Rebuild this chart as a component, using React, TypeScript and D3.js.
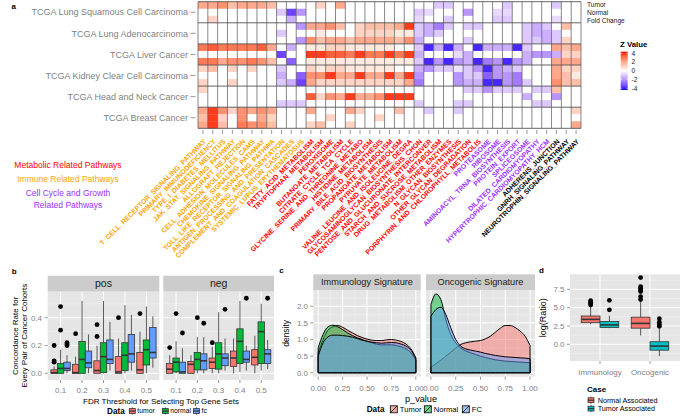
import React from "react";
import * as d3 from "d3";

const FONT = '"Liberation Sans", Arial, Helvetica, sans-serif';
const GREY_TEXT = "#7F7F7F";
const PANEL_BG = "#E5E5E5";
const STRIP_BG = "#CCCCCC";
const MINOR = "#F2F2F2";
const LINE = "#333333";

// ---------------- Panel a data ----------------
const cancers = [
  "TCGA Lung Squamous Cell Carcinoma",
  "TCGA Lung Adenocarcinoma",
  "TCGA Liver Cancer",
  "TCGA Kidney Clear Cell Carcinoma",
  "TCGA Head and Neck Cancer",
  "TCGA Breast Cancer",
];
const heatRowTypes = ["Tumor", "Normal", "Fold Change"];
const pathways = [
  "T_CELL_RECEPTOR_SIGNALING_PATHWAY",
  "PRIMARY_IMMUNODEFICIENCY",
  "TYPE_I_DIABETES_MELLITUS",
  "JAK_STAT_SIGNALING_PATHWAY",
  "ALLOGRAFT_REJECTION",
  "CELL_ADHESION_MOLECULES_CAMS",
  "CHEMOKINE_SIGNALING_PATHWAY",
  "TOLL_LIKE_RECEPTOR_SIGNALING_PATHWA",
  "ANTIGEN_PROCESSING_AND_PRESENTATION",
  "COMPLEMENT_AND_COAGULATION_CASCADES",
  "SYSTEMIC_LUPUS_ERYTHEMATOSUS",
  "FATTY_ACID_METABOLISM",
  "TRYPTOPHAN_METABOLISM",
  "PEROXISOME",
  "BUTANOATE_METABOLISM",
  "CITRATE_CYCLE_TCA_CYCLE",
  "GLYCINE_SERINE_AND_THREONINE_METABO",
  "HISTIDINE_METABOLISM",
  "PRIMARY_BILE_ACID_BIOSYNTHESIS",
  "PROPANOATE_METABOLISM",
  "PYRUVATE_METABOLISM",
  "VALINE_LEUCINE_AND_ISOLEUCINE_DEGRA",
  "GLYCOSAMINOGLYCAN_BIOSYNTHESIS_CHON",
  "PENTOSE_AND_GLUCURONATE_INTERCONVER",
  "STARCH_AND_SUCROSE_METABOLISM",
  "DRUG_METABOLISM_OTHER_ENZYMES",
  "N_GLYCAN_BIOSYNTHESIS",
  "OTHER_GLYCAN_DEGRADATION",
  "PORPHYRIN_AND_CHLOROPHYLL_METABOLIS",
  "PROTEASOME",
  "RIBOSOME",
  "AMINOACYL_TRNA_BIOSYNTHESIS",
  "PROTEIN_EXPORT",
  "SPLICEOSOME",
  "DILATED_CARDIOMYOPATHY",
  "HYPERTROPHIC_CARDIOMYOPATHY_HCM",
  "ADHERENS_JUNCTION",
  "GNRH_SIGNALING_PATHWAY",
  "NEUROTROPHIN_SIGNALING_PATHWAY",
];
const pathwayGroupSizes = [11, 18, 7, 3];
const pathwayGroupColors = ["#FFA500", "#FF0000", "#9B30FF", "#000000"];
const groupLegendLines = [
  { text: "Metabolic Related Pathways", color: "#FF0000" },
  { text: "Immune Related Pathways", color: "#FFA500" },
  { text: "Cell Cycle and Growth", color: "#9B30FF" },
  { text: "Related Pathways", color: "#9B30FF" },
];

const zLUSC = [
  [2, 2, 2.5, 1.5, 2, 2, 2, 1.5, 0, 0, 0, 0, 1, 0, 2, 0, 0, 0, 0, 0, 0, 0, 0, 0, -1, -1, 0, 0, 0, 0, 0, -1, 0, 0, 0, 0, -1, 0, 0],
  [0, 0, 0, 0, 0, 0, 0, 0, -1, -3.5, -2, 0, 0, 0, 0, 0, 0, 0, 0, 0, 0, 0, -1, -0.7, 0, 0, 0, -2, 0, 0, -0.7, -0.7, 0, 0, 0, 0, 0, 0, 0],
  [0, 1, 0, 0, 0, 0, 0, 0, 0, -1.5, 0, 0, 0, 0, 0, 0, 0, 0, 0, 0, 0, 0, -0.7, 0, 0, -1, 0, 0, 0, 0, -1, -1, 0, 0, 0, 0, -0.7, 0, 0],
];
const zLUAD = [
  [0, 0, 0, 0, 0, 0, 0, 0, 0, 0, -2, 2, 2, 2.5, 1.5, 0, 1, 1.5, 1.5, 1.5, 2, 4, -1, -1.5, -2.5, -1, 0, -1, -1, 0, 0, 0, 0, -1, -1.5, -1, 0, 1.5, 0],
  [0, 0, 0, 0, 0, 0, 0, 0, -1, 0, 0, 0, 0.5, 0, 0, 0, 1, 1, 1, 1, 0.5, 0.5, -1, -1.5, -1, 0, 0, 0, 0, 0, 0, 0, 0, -1, -1.5, -1.5, -1, 0, 0],
  [0, 0, 0, 0, 0, 0, 0, 0, 0, 0, -2, 2.5, 1.5, 2, 2, 1.5, 2, 2, 2, 2, 1.5, 2.5, -1.5, 0, 0, 0, 0, -1, 0, 0, 0, 0, 0, -1, -1, -1.5, -1, 1, 0],
];
const zLIHC = [
  [3, 3.5, 3, 3, 3, 3, 3.5, 2, 0, -1.5, 0, 0.5, 0.5, 1, 1, 0.5, 0.5, 0.5, 0.5, 0.5, 0, 0, -1, -4, -1.5, -4, -1.5, 0, -4, -1.5, -1.5, -1.5, -4, -1, 0, 0, 2, 1.5, 2],
  [0, 0, 0, 0, 0, 0, 0, 0, -3.5, 0, 0, 4, 4, 3.5, 3.5, 3, 4, 3, 3, 4, 3, 4, -1.5, 0, 0, 0, -0.7, -1.5, 0, 0, 0, 0, 0, -1.5, -2, -2, -1.5, 1, 1],
  [3, 3, 2, 2.5, 2.5, 3, 2.5, 1.5, 0, -3, 0, 0.5, 0.5, 0.5, 0.5, 0.5, 0.5, 0.5, 0.5, 0.5, 0.5, 0.5, -1, -4, -2, -4, -2, -1.5, -4, -2.5, -2, -4, -2, -1.5, 0, 0, 2, 2, 2],
];
const zKIRC = [
  [1, 1.5, 0, 1, 0, 1, 0, 0, -1, 0, 0, 1, 0.5, 1, 1, 0.5, 0.5, 0.5, 0.5, 0.5, 0, 0, -1.5, -2, -1, -1, -0.5, -1, -2, -4, -2, -1.5, -1, 0, 0, 0, 2, 1, 1],
  [0, 0, 0, 0, 0, 0, 0, 0, -1.5, 0, -3, 2.5, 2.5, 4, 2, 2, 4, 2, 2, 4, 2, 4, -2, 0, 0, 0, -2, -1, -1, -3, -2, -2, -2.5, 0, 0, 0, 2, 1.5, 0.5],
  [1, 0, 0, 1, 0, 0, 0, 0, -1, -1.5, -3.5, 2, 1, 1, 1, 1, 1, 1, 1, 1, 1, 2, -2.5, 0, 0, 0, -2, -1.5, -1.5, -4, -4, -2, -2.5, -1, 0, 0, 2.5, 1.5, 1.5],
];
const zHNSC = [
  [1, 0, 0, 0, 0, 0, 0, 0, 0, 0, 0, 0, 0, 0, 0, 0, 0, 0, 0, 0, 0, 0, 0, 0, 0, 0, 0, -1, -1, -2, -1, -1, -1, 0, -1, -1, 1.5, 0, 0],
  [0, 0, 0, 0, 0, 0, 0, 0, 0, 0, 0, 3.5, 1, 2.5, 2, 4, 2, 2, 2.5, 4, 4, 4, 0, 0, 0, 0, 0, 0, 0, 0, 0, 0, 0, -1.5, 0, 0, -2, 0, 0],
  [0, 0, 0, 0, 0, 0, 0, 0, -1, -1, -1, 0, 0, 0, 0, 0, 0, 0, 0, 0, 0, 0, -1, 0, 0, 0, -1, -1, 0, 0, 0, 0, 0, 0, -1, -1, 0, 0, 0],
];
const zBRCA = [
  [2, 4, 2.5, 1, 2.5, 2, 2.5, 2, 0, 0, 0, 2, 0, 0, 0, 2, 1, 0, 0, 0, 1.5, 0, 0, -1, 0, 0, -1, 0, 0, 0, 0, 0, 0, 0, 0, 0, 0, 0, 1],
  [1.5, 4, 1, 0, 2.5, 0, 2, 1, 0, 0, 0, 0, 0, 1, 0, 0, 0, 0, 1, 0, 0, 0, 0, 0, 0, 0, 0, 0, 0, 0, 0, 0, 0, 0, 0, 0, 0, 0, 0],
  [2, 4, 1.5, 0, 3, 2.5, 2.5, 1.5, 0, 0, 0, 1, 1.5, 0, 0, 1, 0, 0, 0, 0, 0, 0, 0, 0, 0, 0, 0, 0, 0, 0, 0, 0, 0, 0, 0, 0, 0, 0, 2],
];
const zValueTicks = [4, 2, 0, -2, -4];

// ---------------- Panel b data ----------------
const thresholds = ["0.1", "0.2", "0.3", "0.4", "0.5"];
const bFacets = ["pos", "neg"];
const bSeries = ["tumor", "normal", "fc"];
// [lower whisker, q1, median, q3, upper whisker]
const posTumorStats = [[0, 0, 0.005, 0.025, 0.05], [0, 0, 0.005, 0.065, 0.12], [0, 0, 0.02, 0.09, 0.2], [0, 0, 0.01, 0.12, 0.25], [0, 0, 0.025, 0.15, 0.3]];
const posNormalStats = [[0, 0, 0.035, 0.07, 0.17], [0, 0, 0.1, 0.23, 0.52], [0, 0.005, 0.12, 0.22, 0.52], [0, 0.02, 0.13, 0.22, 0.49], [0, 0.06, 0.17, 0.24, 0.48]];
const posFcStats = [[0, 0.02, 0.035, 0.08, 0.13], [0, 0.04, 0.075, 0.16, 0.28], [0.02, 0.07, 0.1, 0.24, 0.37], [0.02, 0.08, 0.14, 0.28, 0.42], [0.04, 0.11, 0.15, 0.33, 0.41]];
const posTumorOut = [[0.2, 0.09, 0.08], [0.285], [0.35, 0.265], [0.4], [0.43]];
const posNormalOut = [[0.48, 0.31], [], [], [], []];
const posFcOut = [[0.22, 0.21, 0.2], [], [], [], []];
const negTumorStats = [[0, 0, 0.03, 0.07, 0.13], [0, 0, 0.065, 0.085, 0.13], [0, 0.035, 0.08, 0.11, 0.19], [0, 0.05, 0.11, 0.16, 0.25], [0, 0.06, 0.115, 0.17, 0.27]];
const negNormalStats = [[0, 0.01, 0.08, 0.11, 0.23], [0, 0.025, 0.1, 0.15, 0.26], [0, 0.03, 0.14, 0.22, 0.44], [0.01, 0.07, 0.23, 0.32, 0.52], [0.02, 0.07, 0.3, 0.37, 0.5]];
const negFcStats = [[0, 0, 0.01, 0.08, 0.18], [0, 0.025, 0.09, 0.14, 0.26], [0.02, 0.055, 0.11, 0.14, 0.25], [0.02, 0.08, 0.1, 0.16, 0.2], [0.03, 0.07, 0.14, 0.17, 0.24]];
const negTumorOut = [[0.185], [], [0.22], [], []];
const negNormalOut = [[0.43], [0.4], [], [], []];
const negFcOut = [[0.29], [0.36], [0.46], [0.54], [0.54]];
const bYTicks = [0, 0.2, 0.4];
const bYMinor = [0.1, 0.3, 0.5];

// ---------------- Panel c data ----------------
const cFacets = ["Immunology Signature", "Oncogenic Signature"];
const cSeries = ["Tumor", "Normal", "FC"];
const pGrid = [0, 0.05, 0.1, 0.15, 0.2, 0.25, 0.3, 0.35, 0.4, 0.45, 0.5, 0.55, 0.6, 0.65, 0.7, 0.75, 0.8, 0.85, 0.9, 0.95, 1];
const immTumorDensity = [0.6, 1.0, 1.28, 1.38, 1.42, 1.37, 1.28, 1.2, 1.12, 1.06, 1.01, 0.98, 0.97, 0.97, 0.99, 1.0, 0.98, 0.94, 0.86, 0.72, 0.45];
const immNormalDensity = [0.75, 1.15, 1.38, 1.43, 1.38, 1.3, 1.2, 1.12, 1.05, 1.0, 0.94, 0.9, 0.86, 0.84, 0.84, 0.84, 0.82, 0.78, 0.72, 0.6, 0.38];
const immFcDensity = [0.5, 0.9, 1.08, 1.13, 1.13, 1.12, 1.1, 1.07, 1.03, 0.98, 0.95, 0.92, 0.9, 0.89, 0.9, 0.91, 0.9, 0.86, 0.8, 0.68, 0.42];
const oncTumorDensity = [0.17, 0.27, 0.38, 0.5, 0.62, 0.74, 0.85, 0.9, 0.93, 0.95, 0.97, 1.02, 1.1, 1.22, 1.34, 1.42, 1.42, 1.36, 1.25, 1.1, 0.82];
const oncNormalDensity = [2.05, 2.37, 2.2, 1.6, 1.15, 0.9, 0.75, 0.66, 0.6, 0.55, 0.5, 0.46, 0.42, 0.39, 0.37, 0.35, 0.34, 0.33, 0.32, 0.31, 0.3];
const oncFcDensity = [1.7, 1.9, 1.97, 1.75, 1.35, 1.0, 0.8, 0.72, 0.68, 0.65, 0.62, 0.58, 0.55, 0.52, 0.5, 0.48, 0.47, 0.46, 0.45, 0.44, 0.42];
const cXTicks = [0, 0.25, 0.5, 0.75, 1];
const cXTickLabels = ["0.00", "0.25", "0.50", "0.75", "1.00"];
const cYTicks = [0, 0.5, 1, 1.5, 2];

// ---------------- Panel d data ----------------
const dCategories = ["Immunology", "Oncogenic"];
const dCases = ["Normal Associated", "Tumor Associated"];
const dNormalStats = [[2.75, 2.95, 3.4, 3.86, 5.1], [1.2, 2.2, 2.85, 3.7, 5.8]];
const dTumorStats = [[2.2, 2.3, 2.65, 3.1, 3.9], [-1.6, -0.8, -0.25, 0.35, 2.2]];
const dNormalOut = [[5.35, 5.55, 5.75, 5.95], [6.1, 6.5, 7.2, 7.4, 7.6, 7.85, 9.1]];
const dTumorOut = [[4.7, 6.0], [2.45, 2.65, 3.0, 3.5]];
const dYTicks = [0, 2.5, 5, 7.5];
const dYTickLabels = ["0.0", "2.5", "5.0", "7.5"];
const dYMinor = [-1.25, 1.25, 3.75, 6.25, 8.75];

const hue3 = ["#F8766D", "#00BA38", "#619CFF"];
const hue2 = ["#F8766D", "#00BFC4"];

type BoxProps = {
  cx: number;
  w: number;
  stats: number[];
  y: (v: number) => number;
  fill: string;
  outliers: number[];
  r: number;
};

function BoxMark({ cx, w, stats, y, fill, outliers, r }: BoxProps) {
  const [lo, q1, med, q3, hi] = stats;
  return (
    <g>
      <line x1={cx} x2={cx} y1={y(hi)} y2={y(q3)} stroke={LINE} strokeWidth={0.8} />
      <line x1={cx} x2={cx} y1={y(q1)} y2={y(lo)} stroke={LINE} strokeWidth={0.8} />
      <rect x={cx - w / 2} y={y(q3)} width={w} height={Math.max(0.01, y(q1) - y(q3))} fill={fill} stroke={LINE} strokeWidth={0.8} />
      <line x1={cx - w / 2} x2={cx + w / 2} y1={y(med)} y2={y(med)} stroke={LINE} strokeWidth={1.6} />
      {outliers.map((o, i) => (
        <circle key={i} cx={cx} cy={y(o)} r={r} fill="#000" />
      ))}
    </g>
  );
}

function BoxKey({ x, y, fill }: { x: number; y: number; fill: string }) {
  return (
    <g>
      <line x1={x + 3} x2={x + 3} y1={y - 3.6} y2={y + 3.6} stroke={LINE} strokeWidth={0.8} />
      <rect x={x} y={y - 2.4} width={6} height={4.8} fill={fill} stroke={LINE} strokeWidth={0.8} />
      <line x1={x} x2={x + 6} y1={y} y2={y} stroke={LINE} strokeWidth={1.2} />
    </g>
  );
}

export default function App() {
  // ---------------- Panel a ----------------
  const heatLeft = 198;
  const heatRight = 581;
  const heatTop = 1.7;
  const heatBottom = 128.3;
  const xHeat = d3.scaleBand<string>().domain(pathways).range([heatLeft, heatRight]);
  const yHeat = d3.scaleBand<number>().domain(d3.range(18)).range([heatTop, heatBottom]);
  const colorZ = d3
    .scaleLinear<string>()
    .domain([-4.4, 0, 4.4])
    .range(["#0000FF", "#FFFFFF", "#FF0000"])
    .interpolate(d3.interpolateLab)
    .clamp(true);
  const heatData = [zLUSC, zLUAD, zLIHC, zKIRC, zHNSC, zBRCA];
  const pathwayColor: string[] = [];
  pathwayGroupSizes.forEach((n, gi) => {
    for (let i = 0; i < n; i++) pathwayColor.push(pathwayGroupColors[gi]);
  });
  const cells: JSX.Element[] = [];
  heatData.forEach((block, ci) => {
    block.forEach((row, ri) => {
      row.forEach((v, pi) => {
        const rIdx = ci * 3 + ri;
        cells.push(
          <rect
            key={`c${rIdx}-${pi}`}
            x={xHeat(pathways[pi])}
            y={yHeat(rIdx)}
            width={xHeat.bandwidth()}
            height={yHeat.bandwidth() + 0.3}
            fill={colorZ(v)}
          />
        );
      });
    });
  });
  const zBar = { x: 620.7, w: 7, top: 51.7, bottom: 90 };
  const zScale = d3.scaleLinear().domain([4.4, -4.4]).range([zBar.top, zBar.bottom]);
  const gradStops = d3.range(0, 1.0001, 0.1);

  // ---------------- Panel b ----------------
  const bPanels = [
    { left: 47.7, right: 159.3 },
    { left: 163.3, right: 274 },
  ];
  const bStripTop = 275.7;
  const bPlotTop = 291.7;
  const bPlotBottom = 380;
  const yB = d3.scaleLinear().domain([-0.048, 0.587]).range([bPlotBottom, bPlotTop]);
  const bStats = [
    [posTumorStats, posNormalStats, posFcStats],
    [negTumorStats, negNormalStats, negFcStats],
  ];
  const bOut = [
    [posTumorOut, posNormalOut, posFcOut],
    [negTumorOut, negNormalOut, negFcOut],
  ];

  // ---------------- Panel c ----------------
  const cPanels = [
    { left: 313.3, right: 420.7 },
    { left: 426, right: 535 },
  ];
  const cStripTop = 274.3;
  const cPlotTop = 290;
  const cPlotBottom = 376.7;
  const yC = d3.scaleLinear().domain([-0.1185, 2.4885]).range([cPlotBottom, cPlotTop]);
  const cDensities = [
    [immTumorDensity, immNormalDensity, immFcDensity],
    [oncTumorDensity, oncNormalDensity, oncFcDensity],
  ];

  // ---------------- Panel d ----------------
  const dPanel = { left: 570, right: 680, top: 274.3, bottom: 361 };
  const yD = d3.scaleLinear().domain([-2.28, 9.55]).range([dPanel.bottom, dPanel.top]);
  const dUnit = (dPanel.right - dPanel.left) / 2.2;
  const xD = d3
    .scalePoint<string>()
    .domain(dCategories)
    .range([dPanel.left + 0.6 * dUnit, dPanel.right - 0.6 * dUnit]);

  return (
    <svg
      width={685}
      height={418}
      style={{ position: "absolute", left: 0, top: 0 }}
      fontFamily={FONT}
    >
      <rect x={0} y={0} width={685} height={418} fill="#FFFFFF" />
      <defs>
        <linearGradient id="zgrad" x1="0" y1="0" x2="0" y2="1">
          {gradStops.map((t, i) => (
            <stop key={i} offset={t} stopColor={colorZ(4.4 - 8.8 * t)} />
          ))}
        </linearGradient>
      </defs>

      {/* ================= Panel a ================= */}
      <text x={11.5} y={8.8} fontSize={8} fontWeight="bold">a</text>
      <g>{cells}</g>
      {d3.range(pathways.length + 1).map((i) => {
        const x = heatLeft + i * xHeat.step();
        return <line key={`v${i}`} x1={x} x2={x} y1={heatTop} y2={heatBottom} stroke="#555" strokeWidth={0.7} />;
      })}
      {d3.range(cancers.length + 1).map((i) => {
        const y = heatTop + i * 3 * yHeat.step();
        return <line key={`h${i}`} x1={heatLeft} x2={heatRight} y1={y} y2={y} stroke="#555" strokeWidth={0.9} />;
      })}
      {cancers.map((c, i) => {
        const yc = heatTop + (i * 3 + 1.5) * yHeat.step();
        return (
          <g key={c}>
            <text x={188} y={yc} dy="0.35em" textAnchor="end" fontSize={9} fill={GREY_TEXT}>{c}</text>
            <line x1={190.5} x2={195.5} y1={yc} y2={yc} stroke={GREY_TEXT} strokeWidth={0.8} />
          </g>
        );
      })}
      {pathways.map((p, i) => {
        const cx = (xHeat(p) as number) + xHeat.bandwidth() / 2;
        return (
          <g key={p}>
            <line x1={cx} x2={cx} y1={130} y2={134} stroke={GREY_TEXT} strokeWidth={0.8} />
            <text
              transform={`translate(${cx + 3.5},${142}) rotate(-45)`}
              textAnchor="end"
              fontSize={6.9}
              fontWeight="bold"
              fill={pathwayColor[i]}
            >
              {p}
            </text>
          </g>
        );
      })}
      {groupLegendLines.map((g, i) => (
        <text key={g.text} x={68} y={[165, 179.3, 193.3, 205][i]} dy="0.35em" textAnchor="middle" fontSize={8.5} fill={g.color}>
          {g.text}
        </text>
      ))}
      {heatRowTypes.map((t, i) => (
        <text key={t} x={587} y={[4.3, 12.7, 21][i]} dy="0.35em" fontSize={6.6} fill="#222">{t}</text>
      ))}
      <text x={620} y={44} dy="0.35em" fontSize={7.8} fontWeight="bold">Z Value</text>
      <rect x={zBar.x} y={zBar.top} width={zBar.w} height={zBar.bottom - zBar.top} fill="url(#zgrad)" />
      {zValueTicks.map((v) => (
        <g key={v}>
          <line x1={zBar.x} x2={zBar.x + 1.5} y1={zScale(v)} y2={zScale(v)} stroke="#fff" strokeWidth={0.6} />
          <line x1={zBar.x + zBar.w - 1.5} x2={zBar.x + zBar.w} y1={zScale(v)} y2={zScale(v)} stroke="#fff" strokeWidth={0.6} />
          <text x={631.5} y={zScale(v)} dy="0.35em" fontSize={6.6} fill="#222">{v}</text>
        </g>
      ))}

      {/* ================= Panel b ================= */}
      <text x={11.7} y={273.5} fontSize={8} fontWeight="bold">b</text>
      {bPanels.map((pn, fi) => {
        const w = pn.right - pn.left;
        const unit = w / 5.2;
        const xB = d3.scalePoint<string>().domain(thresholds).range([pn.left + 0.6 * unit, pn.right - 0.6 * unit]);
        const bw = 0.3 * unit;
        return (
          <g key={bFacets[fi]}>
            <rect x={pn.left} y={bStripTop} width={w} height={bPlotTop - bStripTop} fill={STRIP_BG} />
            <text x={(pn.left + pn.right) / 2} y={(bStripTop + bPlotTop) / 2} dy="0.36em" textAnchor="middle" fontSize={10.5} fill="#1A1A1A">
              {bFacets[fi]}
            </text>
            <rect x={pn.left} y={bPlotTop} width={w} height={bPlotBottom - bPlotTop} fill={PANEL_BG} />
            {bYMinor.map((v) => (
              <line key={`m${v}`} x1={pn.left} x2={pn.right} y1={yB(v)} y2={yB(v)} stroke={MINOR} strokeWidth={0.5} />
            ))}
            {bYTicks.map((v) => (
              <line key={`g${v}`} x1={pn.left} x2={pn.right} y1={yB(v)} y2={yB(v)} stroke="#fff" strokeWidth={1} />
            ))}
            {thresholds.map((t) => (
              <line key={`gv${t}`} x1={xB(t)} x2={xB(t)} y1={bPlotTop} y2={bPlotBottom} stroke="#fff" strokeWidth={1} />
            ))}
            {thresholds.map((t, ti) =>
              bSeries.map((s, si) => (
                <BoxMark
                  key={`${t}-${s}`}
                  cx={(xB(t) as number) + (si - 1) * bw}
                  w={bw}
                  stats={bStats[fi][si][ti]}
                  y={yB}
                  fill={hue3[si]}
                  outliers={bOut[fi][si][ti]}
                  r={2.4}
                />
              ))
            )}
            {thresholds.map((t) => (
              <g key={`xt${t}`}>
                <line x1={xB(t)} x2={xB(t)} y1={bPlotBottom} y2={bPlotBottom + 3} stroke={GREY_TEXT} strokeWidth={0.8} />
                <text x={xB(t)} y={390.3} dy="0.35em" textAnchor="middle" fontSize={8} fill={GREY_TEXT}>{t}</text>
              </g>
            ))}
          </g>
        );
      })}
      {bYTicks.map((v) => (
        <g key={`by${v}`}>
          <line x1={44.7} x2={47.7} y1={yB(v)} y2={yB(v)} stroke={GREY_TEXT} strokeWidth={0.8} />
          <text x={42} y={yB(v)} dy="0.35em" textAnchor="end" fontSize={8} fill={GREY_TEXT}>{v.toFixed(1)}</text>
        </g>
      ))}
      <text transform={`translate(15.5,${(bPlotTop + bPlotBottom) / 2}) rotate(-90)`} textAnchor="middle" fontSize={8} dy="0.35em">
        Concordance Rate for
      </text>
      <text transform={`translate(24.5,${(bPlotTop + bPlotBottom) / 2}) rotate(-90)`} textAnchor="middle" fontSize={8} dy="0.35em">
        Every Pair of Cancer Cohorts
      </text>
      <text x={161} y={401} dy="0.35em" textAnchor="middle" fontSize={8}>FDR Threshold for Selecting Top Gene Sets</text>
      <text x={107} y={411} dy="0.35em" fontSize={8.2} fontWeight="bold">Data</text>
      {bSeries.map((s, i) => {
        const kx = [129.3, 162.3, 193.5][i];
        return (
          <g key={`bk${s}`}>
            <BoxKey x={kx} y={411} fill={hue3[i]} />
            <text x={kx + 8} y={411} dy="0.35em" fontSize={6.8}>{s}</text>
          </g>
        );
      })}

      {/* ================= Panel c ================= */}
      <text x={279.3} y={272.5} fontSize={8} fontWeight="bold">c</text>
      {cPanels.map((pn, fi) => {
        const w = pn.right - pn.left;
        const xC = d3.scaleLinear().domain([-0.05, 1.05]).range([pn.left, pn.right]);
        return (
          <g key={cFacets[fi]}>
            <rect x={pn.left} y={cStripTop} width={w} height={cPlotTop - cStripTop} fill={STRIP_BG} />
            <text x={(pn.left + pn.right) / 2} y={(cStripTop + cPlotTop) / 2} dy="0.36em" textAnchor="middle" fontSize={9.2} fill="#1A1A1A">
              {cFacets[fi]}
            </text>
            <rect x={pn.left} y={cPlotTop} width={w} height={cPlotBottom - cPlotTop} fill={PANEL_BG} />
            {[0.125, 0.375, 0.625, 0.875].map((v) => (
              <line key={`mx${v}`} x1={xC(v)} x2={xC(v)} y1={cPlotTop} y2={cPlotBottom} stroke={MINOR} strokeWidth={0.5} />
            ))}
            {[0.25, 0.75, 1.25, 1.75, 2.25].map((v) => (
              <line key={`my${v}`} x1={pn.left} x2={pn.right} y1={yC(v)} y2={yC(v)} stroke={MINOR} strokeWidth={0.5} />
            ))}
            {cXTicks.map((v) => (
              <line key={`gx${v}`} x1={xC(v)} x2={xC(v)} y1={cPlotTop} y2={cPlotBottom} stroke="#fff" strokeWidth={1} />
            ))}
            {cYTicks.map((v) => (
              <line key={`gy${v}`} x1={pn.left} x2={pn.right} y1={yC(v)} y2={yC(v)} stroke="#fff" strokeWidth={1} />
            ))}
            {cDensities[fi].map((dens, si) => {
              const area = d3
                .area<number>()
                .x((_, i) => xC(pGrid[i]))
                .y0(yC(0))
                .y1((d) => yC(d))
                .curve(d3.curveMonotoneX);
              return (
                <path
                  key={`d${si}`}
                  d={(area(dens) as string) + "Z"}
                  fill={hue3[si]}
                  fillOpacity={0.5}
                  stroke="#000"
                  strokeWidth={1}
                  strokeLinejoin="round"
                />
              );
            })}
            {cXTicks.map((v, i) => (
              <g key={`xt${v}`}>
                <line x1={xC(v)} x2={xC(v)} y1={cPlotBottom} y2={cPlotBottom + 3} stroke={GREY_TEXT} strokeWidth={0.8} />
                <text x={xC(v)} y={387.7} dy="0.35em" textAnchor="middle" fontSize={8} fill={GREY_TEXT}>{cXTickLabels[i]}</text>
              </g>
            ))}
          </g>
        );
      })}
      {cYTicks.map((v) => (
        <g key={`cy${v}`}>
          <line x1={310.3} x2={313.3} y1={yC(v)} y2={yC(v)} stroke={GREY_TEXT} strokeWidth={0.8} />
          <text x={308} y={yC(v)} dy="0.35em" textAnchor="end" fontSize={8} fill={GREY_TEXT}>{v.toFixed(1)}</text>
        </g>
      ))}
      <text transform={`translate(286,${(cPlotTop + cPlotBottom) / 2}) rotate(-90)`} textAnchor="middle" fontSize={8.5} dy="0.35em">
        density
      </text>
      <text x={421} y={398.5} dy="0.35em" textAnchor="middle" fontSize={9.2}>p_value</text>
      <text x={366.7} y={409.3} dy="0.35em" fontSize={8.2} fontWeight="bold">Data</text>
      {cSeries.map((s, i) => {
        const kx = [390.3, 424.3, 462.3][i];
        return (
          <g key={`ck${s}`}>
            <rect x={kx} y={405.8} width={7} height={7} fill={PANEL_BG} />
            <rect x={kx} y={405.8} width={7} height={7} fill={hue3[i]} fillOpacity={0.5} stroke="#000" strokeWidth={0.8} />
            <line x1={kx} x2={kx + 7} y1={412.8} y2={405.8} stroke="#000" strokeWidth={0.8} />
            <text x={kx + 9.5} y={409.3} dy="0.35em" fontSize={7.6}>{s}</text>
          </g>
        );
      })}

      {/* ================= Panel d ================= */}
      <text x={539} y={272.5} fontSize={8} fontWeight="bold">d</text>
      <rect x={dPanel.left} y={dPanel.top} width={dPanel.right - dPanel.left} height={dPanel.bottom - dPanel.top} fill={PANEL_BG} />
      {dYMinor.map((v) => (
        <line key={`dm${v}`} x1={dPanel.left} x2={dPanel.right} y1={yD(v)} y2={yD(v)} stroke={MINOR} strokeWidth={0.5} />
      ))}
      {dYTicks.map((v) => (
        <line key={`dg${v}`} x1={dPanel.left} x2={dPanel.right} y1={yD(v)} y2={yD(v)} stroke="#fff" strokeWidth={1} />
      ))}
      {dCategories.map((c) => (
        <line key={`dv${c}`} x1={xD(c)} x2={xD(c)} y1={dPanel.top} y2={dPanel.bottom} stroke="#fff" strokeWidth={1} />
      ))}
      {dCategories.map((c, ci) => {
        const bw = 0.375 * dUnit;
        const cx = xD(c) as number;
        return (
          <g key={`db${c}`}>
            <BoxMark cx={cx - bw / 2} w={bw} stats={dNormalStats[ci]} y={yD} fill={hue2[0]} outliers={dNormalOut[ci]} r={2.4} />
            <BoxMark cx={cx + bw / 2} w={bw} stats={dTumorStats[ci]} y={yD} fill={hue2[1]} outliers={dTumorOut[ci]} r={2.4} />
          </g>
        );
      })}
      {dYTicks.map((v, i) => (
        <g key={`dy${v}`}>
          <line x1={567} x2={570} y1={yD(v)} y2={yD(v)} stroke={GREY_TEXT} strokeWidth={0.8} />
          <text x={564.5} y={yD(v)} dy="0.35em" textAnchor="end" fontSize={8} fill={GREY_TEXT}>{dYTickLabels[i]}</text>
        </g>
      ))}
      {dCategories.map((c) => (
        <g key={`dx${c}`}>
          <line x1={xD(c)} x2={xD(c)} y1={dPanel.bottom} y2={dPanel.bottom + 3} stroke={GREY_TEXT} strokeWidth={0.8} />
          <text x={xD(c)} y={372.3} dy="0.35em" textAnchor="middle" fontSize={8} fill={GREY_TEXT}>{c}</text>
        </g>
      ))}
      <text transform={`translate(543,${(dPanel.top + dPanel.bottom) / 2}) rotate(-90)`} textAnchor="middle" fontSize={9} dy="0.35em">
        log(Ratio)
      </text>
      <text x={587} y={389} dy="0.35em" fontSize={8} fontWeight="bold">Case</text>
      {dCases.map((s, i) => {
        const ky = [400.2, 408.6][i];
        return (
          <g key={`dk${s}`}>
            <BoxKey x={588} y={ky} fill={hue2[i]} />
            <text x={597.7} y={ky} dy="0.35em" fontSize={7.2}>{s}</text>
          </g>
        );
      })}
    </svg>
  );
}
